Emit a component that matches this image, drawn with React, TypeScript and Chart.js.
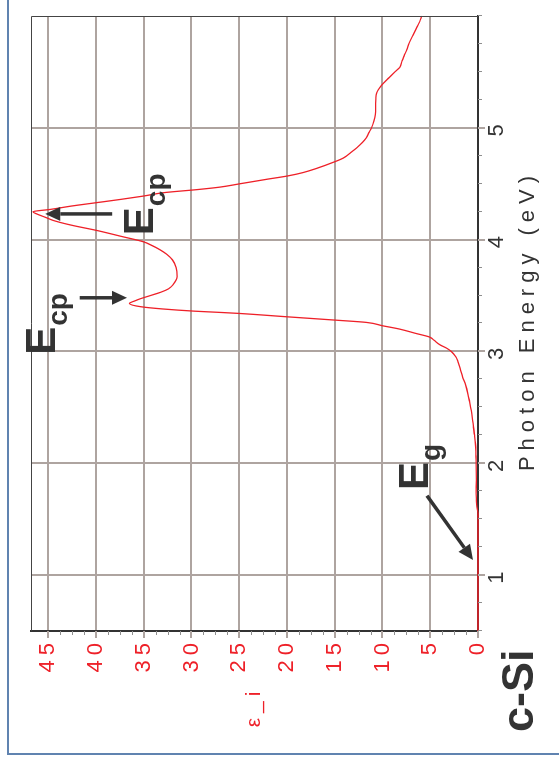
import React, { useEffect, useRef } from 'react';
import { Chart, registerables } from 'chart.js';

Chart.register(...registerables);

// Photon energy (eV) and imaginary dielectric function of c-Si
const energy = [0.5, 1.0, 1.55, 1.61, 1.68, 1.73, 1.85, 2.0, 2.08, 2.17, 2.25, 2.32, 2.4, 2.47, 2.55, 2.62, 2.7, 2.77, 2.84, 2.91, 2.95, 3.0, 3.03, 3.06, 3.1, 3.13, 3.16, 3.2, 3.23, 3.26, 3.28, 3.31, 3.34, 3.35, 3.36, 3.38, 3.4, 3.43, 3.45, 3.47, 3.5, 3.53, 3.56, 3.6, 3.67, 3.75, 3.82, 3.87, 3.91, 3.95, 3.98, 4.03, 4.08, 4.13, 4.17, 4.2, 4.23, 4.25, 4.27, 4.3, 4.33, 4.36, 4.39, 4.42, 4.45, 4.47, 4.5, 4.54, 4.57, 4.6, 4.64, 4.69, 4.73, 4.78, 4.82, 4.87, 4.91, 4.96, 5.0, 5.06, 5.12, 5.2, 5.26, 5.31, 5.34, 5.38, 5.45, 5.5, 5.54, 5.6, 5.65, 5.7, 5.76, 5.83, 5.9, 5.95, 6.0];
const epsI = [0, 0, 0, 0.12, 0.17, 0.19, 0.18, 0.19, 0.22, 0.26, 0.36, 0.47, 0.58, 0.7, 0.88, 1.05, 1.3, 1.6, 1.85, 2.1, 2.3, 2.8, 3.3, 4.0, 4.6, 5.1, 6.45, 8.2, 10.0, 11.7, 14.9, 20.0, 25.0, 27.2, 29.6, 33.0, 35.3, 36.5, 36.0, 35.4, 34.3, 33.2, 32.4, 31.9, 31.5, 31.6, 32.0, 32.6, 33.3, 34.2, 35.0, 37.4, 39.8, 42.6, 44.4, 45.3, 46.2, 46.6, 44.8, 42.6, 40.0, 37.4, 35.0, 32.9, 29.1, 27.0, 24.9, 22.1, 19.9, 18.3, 16.8, 15.2, 14.1, 13.3, 12.7, 12.1, 11.7, 11.4, 11.15, 10.9, 10.75, 10.72, 10.7, 10.62, 10.45, 10.1, 9.3, 8.7, 8.2, 7.95, 7.7, 7.45, 7.2, 6.8, 6.4, 6.1, 5.9];

// Axis ticks
const energyMajorTicks = [1, 2, 3, 4, 5];
const epsMajorTicks = [0, 5, 10, 15, 20, 25, 30, 35, 40, 45];

// Text labels
const xTitle = 'Photon Energy (eV)';
const yTitle = 'ε_i';
const sampleLabel = 'c-Si';

// Annotations (data coordinates: energy, eps)
const annMain = ['E', 'E', 'E'];
const annSub = ['cp', 'cp', 'g'];
const annEnergy = [2.97, 4.04, 1.76];
const annEps = [44.3, 34.0, 5.2];

const arrowFromEnergy = [3.48, 4.23, 1.71];
const arrowFromEps = [41.7, 38.3, 5.34];
const arrowToEnergy = [3.48, 4.23, 1.135];
const arrowToEps = [36.75, 45.3, 0.52];

const RED = '#ee2028';
const DARK = '#333333';
const GRID = '#aea4a0';
const FONT = '"Liberation Sans", Arial, sans-serif';

function drawArrow(ctx: CanvasRenderingContext2D, x1: number, y1: number, x2: number, y2: number) {
  const ang = Math.atan2(y2 - y1, x2 - x1);
  const head = 15;
  const hw = 7;
  const bx = x2 - head * Math.cos(ang);
  const by = y2 - head * Math.sin(ang);
  ctx.lineWidth = 3.5;
  ctx.lineCap = 'butt';
  ctx.beginPath();
  ctx.moveTo(x1, y1);
  ctx.lineTo(bx, by);
  ctx.stroke();
  ctx.beginPath();
  ctx.moveTo(x2, y2);
  ctx.lineTo(bx + hw * Math.sin(ang), by - hw * Math.cos(ang));
  ctx.lineTo(bx - hw * Math.sin(ang), by + hw * Math.cos(ang));
  ctx.closePath();
  ctx.fill();
}

const overlayPlugin = {
  id: 'overlay',
  beforeDraw(chart: any) {
    chart.ctx.letterSpacing = '5px';
  },
  afterDraw(chart: any) {
    const ctx: CanvasRenderingContext2D = chart.ctx;
    const a = chart.chartArea;
    const xs = chart.scales.x;
    const ys = chart.scales.y;
    ctx.save();
    ctx.letterSpacing = '0px';

    // thin frame on the other two sides
    ctx.strokeStyle = '#444';
    ctx.lineWidth = 1;
    ctx.beginPath();
    ctx.moveTo(a.left, a.top + 0.5);
    ctx.lineTo(a.right - 0.5, a.top + 0.5);
    ctx.lineTo(a.right - 0.5, a.bottom);
    ctx.stroke();

    // tick marks
    xs.ticks.forEach((t: any) => {
      const major = energyMajorTicks.includes(t.value);
      const px = Math.round(xs.getPixelForValue(t.value));
      ctx.beginPath();
      ctx.strokeStyle = major ? GRID : '#8e8e8e';
      ctx.lineWidth = major ? 2 : 1;
      ctx.moveTo(major ? px : px + 0.5, a.bottom);
      ctx.lineTo(major ? px : px + 0.5, a.bottom + (major ? 7 : 4));
      ctx.stroke();
    });
    ys.ticks.forEach((t: any) => {
      if (Math.abs(t.value / 1.25 - Math.round(t.value / 1.25)) > 1e-6) return;
      const major = epsMajorTicks.includes(t.value);
      const py = Math.round(ys.getPixelForValue(t.value));
      ctx.beginPath();
      ctx.strokeStyle = major ? GRID : '#8e8e8e';
      ctx.lineWidth = major ? 2 : 1;
      ctx.moveTo(a.left, major ? py : py + 0.5);
      ctx.lineTo(a.left - (major ? 7 : 4), major ? py : py + 0.5);
      ctx.stroke();
    });

    // axis titles
    ctx.fillStyle = DARK;
    ctx.font = `22px ${FONT}`;
    ctx.letterSpacing = '6px';
    ctx.textAlign = 'center';
    ctx.textBaseline = 'alphabetic';
    ctx.fillText(xTitle, (a.left + a.right) / 2 + 3, a.bottom + 56);

    ctx.fillStyle = RED;
    ctx.font = `21px ${FONT}`;
    ctx.letterSpacing = '5px';
    ctx.textBaseline = 'middle';
    ctx.fillText(yTitle, a.left - 76, (a.top + a.bottom) / 2);

    // sample label
    ctx.letterSpacing = '0px';
    ctx.fillStyle = DARK;
    ctx.textAlign = 'left';
    ctx.textBaseline = 'alphabetic';
    ctx.font = `bold 45px ${FONT}`;
    ctx.fillText(sampleLabel, a.left - 101, a.bottom + 55);

    // annotations
    for (let i = 0; i < annMain.length; i++) {
      const x = xs.getPixelForValue(annEnergy[i]);
      const y = ys.getPixelForValue(annEps[i]);
      ctx.font = `bold 42px ${FONT}`;
      ctx.fillText(annMain[i], x, y);
      const w = ctx.measureText(annMain[i]).width;
      ctx.font = `bold 28px ${FONT}`;
      ctx.fillText(annSub[i], x + w + 1, y + 12);
    }
    ctx.strokeStyle = DARK;
    for (let i = 0; i < arrowFromEnergy.length; i++) {
      drawArrow(
        ctx,
        xs.getPixelForValue(arrowFromEnergy[i]),
        ys.getPixelForValue(arrowFromEps[i]),
        xs.getPixelForValue(arrowToEnergy[i]),
        ys.getPixelForValue(arrowToEps[i])
      );
    }
    ctx.restore();
  },
};

export default function App() {
  const ref = useRef<HTMLCanvasElement>(null);

  useEffect(() => {
    const canvas = ref.current;
    if (!canvas) return;
    const points = energy.map((e, i) => ({ x: e, y: epsI[i] }));
    const chart = new Chart(canvas, {
      type: 'scatter',
      data: {
        datasets: [
          {
            data: points,
            showLine: true,
            borderColor: RED,
            borderWidth: 1.3,
            pointRadius: 0,
            tension: 0.3,
            cubicInterpolationMode: 'monotone',
            clip: 3,
          } as any,
        ],
      },
      options: {
        animation: false,
        responsive: false,
        devicePixelRatio: 1,
        layout: { padding: { top: 31, right: 16, left: 0, bottom: 0 } },
        plugins: { legend: { display: false }, tooltip: { enabled: false }, title: { display: false } },
        scales: {
          x: {
            type: 'linear',
            position: 'bottom',
            min: 0.5,
            max: 6.0,
            afterFit: (s: any) => {
              s.height = 81;
            },
            ticks: {
              stepSize: 0.25,
              autoSkip: false,
              maxRotation: 0,
              minRotation: 0,
              padding: 6,
              color: DARK,
              font: { family: FONT, size: 22 },
              callback: (v: any) => (energyMajorTicks.includes(v) ? String(v) : ''),
            },
            grid: {
              drawTicks: false,
              lineWidth: 2,
              color: (c: any) => (c.tick && energyMajorTicks.includes(c.tick.value) ? GRID : 'rgba(0,0,0,0)'),
            },
            border: { display: true, color: DARK, width: 2 },
          },
          y: {
            type: 'linear',
            min: 0,
            max: 46.8,
            afterFit: (s: any) => {
              s.width = 131;
            },
            ticks: {
              stepSize: 1.25,
              autoSkip: false,
              padding: 7,
              color: RED,
              font: { family: FONT, size: 22 },
              callback: (v: any) => (epsMajorTicks.includes(v) ? String(v) : ''),
            },
            grid: {
              drawTicks: false,
              lineWidth: 2,
              color: (c: any) =>
                c.tick && c.tick.value !== 0 && epsMajorTicks.includes(c.tick.value) ? GRID : 'rgba(0,0,0,0)',
            },
            border: { display: true, color: DARK, width: 2 },
          },
        },
      },
      plugins: [overlayPlugin],
    });
    return () => chart.destroy();
  }, []);

  return (
    <>
      <div
        style={{
          position: 'fixed',
          left: 7,
          top: -10,
          width: 700,
          height: 765,
          boxSizing: 'border-box',
          borderLeft: '2px solid #6083b0',
          borderBottom: '2px solid #6083b0',
        }}
      />
      <div
        style={{
          position: 'fixed',
          left: 0,
          top: 0,
          width: 762,
          height: 559,
          transformOrigin: '0 0',
          transform: 'translateY(762px) rotate(-90deg)',
        }}
      >
        <canvas ref={ref} width={762} height={559} style={{ display: 'block', width: 762, height: 559 }} />
      </div>
    </>
  );
}
